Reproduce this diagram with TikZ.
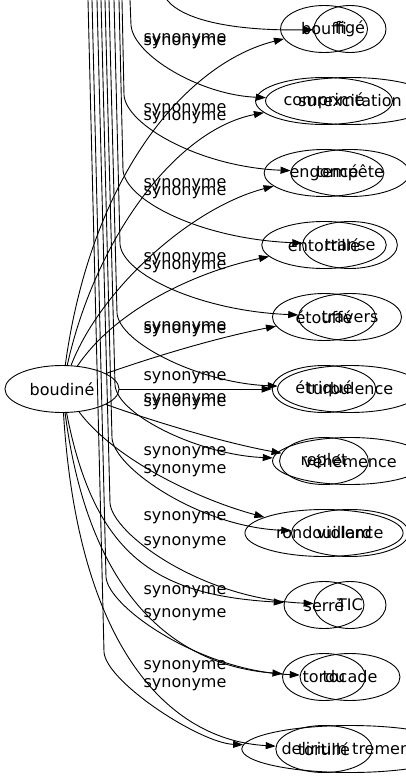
\documentclass[tikz,border=0pt]{standalone}
\usepackage{fontspec}
\setmainfont{DejaVu Sans}
\usetikzlibrary{shapes.geometric,arrows.meta}
\tikzset{
  syn/.style={draw,ellipse,inner xsep=8pt,inner ysep=2pt,minimum width=72pt,minimum height=47pt,font=\fontsize{16}{19}\selectfont},
  rel/.style={font=\fontsize{16}{19}\selectfont,inner sep=0pt},
  >={Triangle[length=10pt,width=7pt]}
}
\begin{document}
\begin{tikzpicture}[x=1pt,y=-1pt,line width=0.9pt]
    \useasboundingbox (0,0) rectangle (406,779);
    \node[syn] (boudine) at (62,389) {boudiné};
    \node[syn] (bouffi) at (324,29) {bouffi};
    \node[syn] (comprime) at (324,101) {comprimé};
    \node[syn] (engonce) at (324,173) {engoncé};
    \node[syn] (entortille) at (324,245) {entortillé};
    \node[syn] (etouffe) at (324,317) {étouffé};
    \node[syn] (etrique) at (324,389) {étriqué};
    \node[syn] (replet) at (324,461) {replet};
    \node[syn] (rondouillard) at (324,533) {rondouillard};
    \node[syn] (serre) at (324,605) {serré};
    \node[syn] (tordu) at (324,677) {tordu};
    \node[syn] (tortille) at (324,749) {tortillé};
    \node[syn] (fige) at (350,29) {figé};
    \node[syn] (surexcitation) at (350,101) {surexcitation};
    \node[syn] (tempete) at (350,173) {tempête};
    \node[syn] (transe) at (350,245) {transe};
    \node[syn] (travers) at (350,317) {travers};
    \node[syn] (turbulence) at (350,389) {turbulence};
    \node[syn] (vehemence) at (350,461) {véhémence};
    \node[syn] (violence) at (350,533) {violence};
    \node[syn] (tic) at (350,605) {TIC};
    \node[syn] (tocade) at (350,677) {tocade};
    \node[syn] (delirium) at (350,749) {delirium tremens};
    \node[rel] (lab1) at (185,40) {synonyme};
    \node[rel] (lab2) at (185,43) {synonyme};
    \node[rel] (lab3) at (185,110) {synonyme};
    \node[rel] (lab4) at (185,118) {synonyme};
    \node[rel] (lab5) at (185,185) {synonyme};
    \node[rel] (lab6) at (185,193) {synonyme};
    \node[rel] (lab7) at (185,259) {synonyme};
    \node[rel] (lab8) at (185,267) {synonyme};
    \node[rel] (lab9) at (185,328) {synonyme};
    \node[rel] (lab10) at (185,331) {synonyme};
    \node[rel] (lab11) at (185,378) {synonyme};
    \node[rel] (lab12) at (185,400) {synonyme};
    \node[rel] (lab13) at (185,404) {synonyme};
    \node[rel] (lab14) at (185,453) {synonyme};
    \node[rel] (lab15) at (185,471) {synonyme};
    \node[rel] (lab16) at (185,518) {synonyme};
    \node[rel] (lab17) at (185,543) {synonyme};
    \node[rel] (lab18) at (185,592) {synonyme};
    \node[rel] (lab19) at (185,615) {synonyme};
    \node[rel] (lab20) at (185,667) {synonyme};
    \node[rel] (lab21) at (185,685) {synonyme};
    \draw[->] (boudine) .. controls (92,170) and (190,62) .. (bouffi);
    \draw[->] (boudine) .. controls (95,240) and (175,130) .. (comprime);
    \draw[->] (boudine) .. controls (100,290) and (190,208) .. (engonce);
    \draw[->] (boudine) .. controls (115,310) and (195,272) .. (entortille);
    \draw[->] (boudine) .. controls (150,358) and (215,338) .. (etouffe);
    \draw[->] (boudine) -- (etrique);
    \draw[->] (boudine) .. controls (150,420) and (220,442) .. (replet);
    \draw[->] (boudine) .. controls (115,460) and (200,500) .. (rondouillard);
    \draw[->] (boudine) .. controls (95,560) and (160,595) .. (serre);
    \draw[->] (boudine) .. controls (88,590) and (170,665) .. (tordu);
    \draw[->] (boudine) .. controls (78,650) and (170,740) .. (tortille);
    \coordinate (top1) at (167,0);
    \coordinate (top2) at (130,0);
    \coordinate (top3) at (122,0);
    \coordinate (top4) at (119,0);
    \coordinate (top5) at (114,0);
    \coordinate (top6) at (109,0);
    \coordinate (top7) at (105,0);
    \coordinate (top8) at (101,0);
    \coordinate (top9) at (97,0);
    \coordinate (top10) at (92,0);
    \coordinate (top11) at (88,0);
    \draw[->] (top1) .. controls (185,22) and (240,31) .. (fige);
    \draw[->] (top2) -- (131,25) .. controls (133,55) and (200,95) .. (surexcitation);
    \draw[->] (top3) -- (124,95) .. controls (126,125) and (200,167) .. (tempete);
    \draw[->] (top4) -- (123,170) .. controls (125,200) and (200,239) .. (transe);
    \draw[->] (top5) -- (120,244) .. controls (122,274) and (200,311) .. (travers);
    \draw[->] (top6) -- (117,313) .. controls (119,343) and (200,383) .. (turbulence);
    \draw[->] (top7) -- (115,385) .. controls (117,415) and (200,455) .. (vehemence);
    \draw[->] (top8) -- (112,438) .. controls (114,468) and (200,527) .. (violence);
    \draw[->] (top9) -- (110,503) .. controls (112,533) and (200,599) .. (tic);
    \draw[->] (top10) -- (106,577) .. controls (108,607) and (200,671) .. (tocade);
    \draw[->] (top11) -- (104,652) .. controls (106,682) and (200,743) .. (delirium);
\end{tikzpicture}
\end{document}
